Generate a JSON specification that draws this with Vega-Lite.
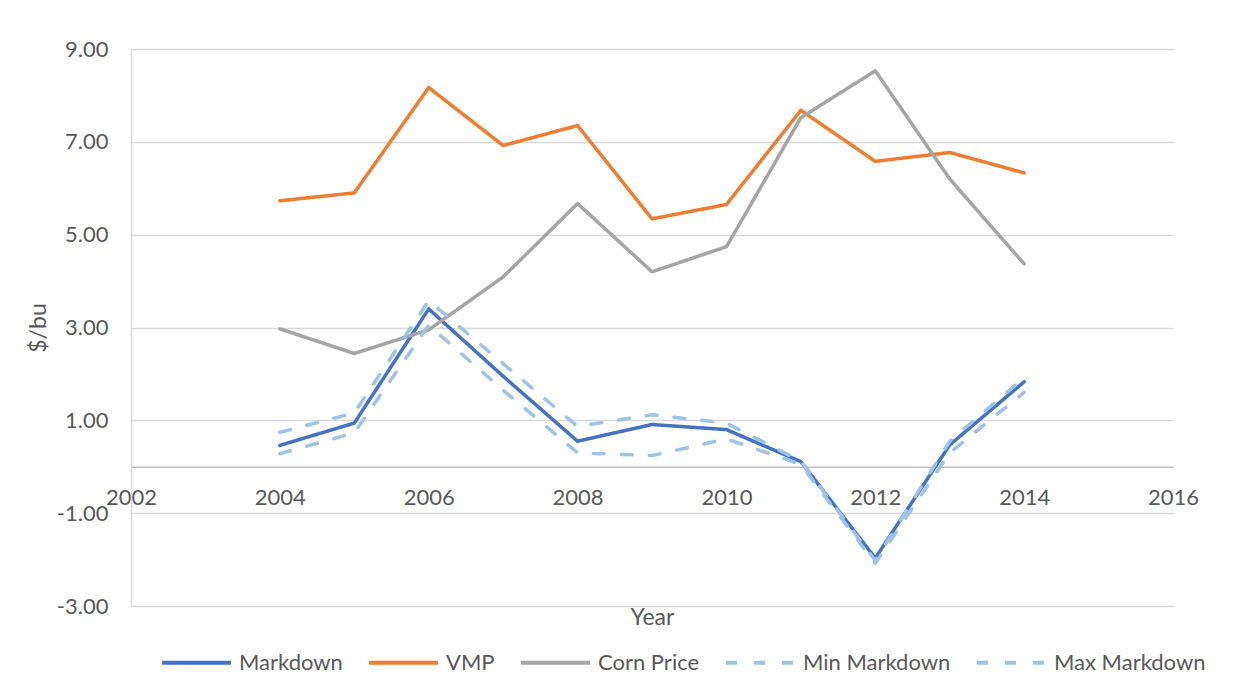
{
  "$schema": "https://vega.github.io/schema/vega-lite/v6.json",
  "width": 1042,
  "height": 557,
  "autosize": "none",
  "padding": {"left": 131, "top": 49, "right": 65, "bottom": 92},
  "background": "white",
  "config": {
    "view": {"stroke": null},
    "font": "Lato",
    "axis": {"labelFont": "Lato", "titleFont": "Lato", "labelColor": "#595959", "titleColor": "#595959", "labelFontSize": 22, "titleFontSize": 23, "titleFontWeight": "normal"},
    "legend": {"labelFont": "Lato", "labelColor": "#595959", "labelFontSize": 22}
  },
  "data": {
    "values": [
      {"year": 2004, "series": "Markdown", "value": 0.46},
      {"year": 2005, "series": "Markdown", "value": 0.94},
      {"year": 2006, "series": "Markdown", "value": 3.40},
      {"year": 2007, "series": "Markdown", "value": 1.95},
      {"year": 2008, "series": "Markdown", "value": 0.55},
      {"year": 2009, "series": "Markdown", "value": 0.91},
      {"year": 2010, "series": "Markdown", "value": 0.80},
      {"year": 2011, "series": "Markdown", "value": 0.11},
      {"year": 2012, "series": "Markdown", "value": -1.97},
      {"year": 2013, "series": "Markdown", "value": 0.47},
      {"year": 2014, "series": "Markdown", "value": 1.83},
      {"year": 2004, "series": "VMP", "value": 5.73},
      {"year": 2005, "series": "VMP", "value": 5.90},
      {"year": 2006, "series": "VMP", "value": 8.17},
      {"year": 2007, "series": "VMP", "value": 6.92},
      {"year": 2008, "series": "VMP", "value": 7.35},
      {"year": 2009, "series": "VMP", "value": 5.34},
      {"year": 2010, "series": "VMP", "value": 5.65},
      {"year": 2011, "series": "VMP", "value": 7.68},
      {"year": 2012, "series": "VMP", "value": 6.58},
      {"year": 2013, "series": "VMP", "value": 6.77},
      {"year": 2014, "series": "VMP", "value": 6.33},
      {"year": 2004, "series": "Corn Price", "value": 2.97},
      {"year": 2005, "series": "Corn Price", "value": 2.44},
      {"year": 2006, "series": "Corn Price", "value": 2.95},
      {"year": 2007, "series": "Corn Price", "value": 4.09},
      {"year": 2008, "series": "Corn Price", "value": 5.67},
      {"year": 2009, "series": "Corn Price", "value": 4.20},
      {"year": 2010, "series": "Corn Price", "value": 4.74},
      {"year": 2011, "series": "Corn Price", "value": 7.52},
      {"year": 2012, "series": "Corn Price", "value": 8.53},
      {"year": 2013, "series": "Corn Price", "value": 6.20},
      {"year": 2014, "series": "Corn Price", "value": 4.37},
      {"year": 2004, "series": "Min Markdown", "value": 0.28},
      {"year": 2005, "series": "Min Markdown", "value": 0.73},
      {"year": 2006, "series": "Min Markdown", "value": 3.05},
      {"year": 2007, "series": "Min Markdown", "value": 1.65},
      {"year": 2008, "series": "Min Markdown", "value": 0.30},
      {"year": 2009, "series": "Min Markdown", "value": 0.24},
      {"year": 2010, "series": "Min Markdown", "value": 0.60},
      {"year": 2011, "series": "Min Markdown", "value": 0.05},
      {"year": 2012, "series": "Min Markdown", "value": -2.08},
      {"year": 2013, "series": "Min Markdown", "value": 0.30},
      {"year": 2014, "series": "Min Markdown", "value": 1.60},
      {"year": 2004, "series": "Max Markdown", "value": 0.74},
      {"year": 2005, "series": "Max Markdown", "value": 1.16},
      {"year": 2006, "series": "Max Markdown", "value": 3.58},
      {"year": 2007, "series": "Max Markdown", "value": 2.22},
      {"year": 2008, "series": "Max Markdown", "value": 0.87},
      {"year": 2009, "series": "Max Markdown", "value": 1.12},
      {"year": 2010, "series": "Max Markdown", "value": 0.94},
      {"year": 2011, "series": "Max Markdown", "value": 0.12},
      {"year": 2012, "series": "Max Markdown", "value": -2.02},
      {"year": 2013, "series": "Max Markdown", "value": 0.55},
      {"year": 2014, "series": "Max Markdown", "value": 1.92}
    ]
  },
  "mark": {"type": "line", "strokeWidth": 3.5, "strokeCap": "round", "strokeJoin": "round"},
  "encoding": {
    "x": {
      "field": "year", "type": "quantitative",
      "scale": {"domain": [2002, 2016], "nice": false, "zero": false},
      "axis": {
        "title": "Year", "values": [2002, 2004, 2006, 2008, 2010, 2012, 2014, 2016], "format": "d",
        "grid": false, "ticks": false, "domainColor": "#BFBFBF", "domainWidth": 1.5,
        "offset": -139.25, "labelPadding": 21, "titleY": 140, "titleBaseline": "top", "labelFlush": false
      }
    },
    "y": {
      "field": "value", "type": "quantitative",
      "scale": {"domain": [-3, 9], "nice": false, "zero": false},
      "axis": {
        "title": "$/bu", "values": [-3, -1, 1, 3, 5, 7, 9],
        "labelExpr": "datum.value < 0 ? '-' + format(-datum.value, '.2f') : format(datum.value, '.2f')",
        "grid": true, "gridColor": "#D9D9D9", "gridWidth": 1.5, "ticks": false,
        "domainColor": "#D9D9D9", "domainWidth": 1.5, "labelPadding": 23, "titlePadding": 6
      }
    },
    "color": {
      "field": "series", "type": "nominal", "sort": null,
      "scale": {"domain": ["Markdown", "VMP", "Corn Price", "Min Markdown", "Max Markdown"], "range": ["#4472C4", "#ED7D31", "#A5A5A5", "#9DC3E6", "#9DC3E6"]},
      "legend": {"title": null, "orient": "none", "direction": "horizontal", "legendX": 29, "legendY": 577, "symbolType": "stroke", "symbolSize": 4761, "symbolStrokeWidth": 4, "columnPadding": 18, "labelOffset": 6}
    },
    "strokeDash": {
      "field": "series", "type": "nominal", "sort": null,
      "scale": {"domain": ["Markdown", "VMP", "Corn Price", "Min Markdown", "Max Markdown"], "range": [[1, 0], [1, 0], [1, 0], [11, 17], [11, 17]]},
      "legend": {"title": null, "orient": "none", "direction": "horizontal", "legendX": 29, "legendY": 577, "symbolType": "stroke", "symbolSize": 4761, "symbolStrokeWidth": 4, "columnPadding": 18, "labelOffset": 6}
    }
  }
}
